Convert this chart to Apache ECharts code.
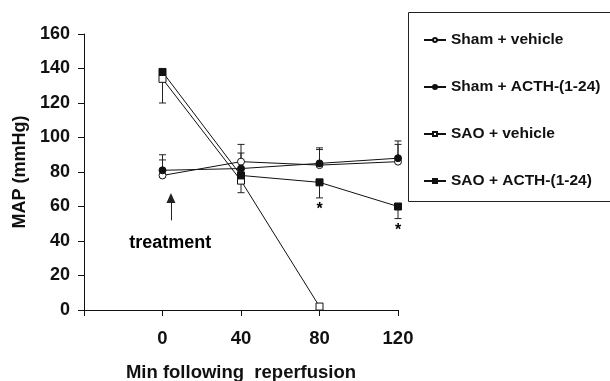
<!DOCTYPE html>
<html><head><meta charset="utf-8">
<script src="https://cdn.jsdelivr.net/npm/echarts@6/dist/echarts.min.js"></script>
<style>html,body{margin:0;padding:0;background:#fff}#c{width:610px;height:381px}</style>
</head><body><div id="c"></div>
<script>
const xTicks = [0, 40, 80, 120];
const shamVehicle = [[0, 78], [40, 86], [80, 84], [120, 86]];
const shamACTH = [[0, 81], [40, 82], [80, 85], [120, 88]];
const saoVehicle = [[0, 134], [40, 75], [80, 2]];
const saoACTH = [[0, 138], [40, 78], [80, 74], [120, 60]];
// error bars: [x, from (mean), to (bar end)]
const errorBars = [
  [0, 81, 90], [0, 78, 87], [40, 86, 96], [40, 82, 91], [80, 85, 94], [80, 84, 93],
  [120, 88, 98], [120, 86, 96],
  [0, 134, 120], [40, 78, 68], [80, 74, 65], [120, 60, 53]
];
const asterisks = [[80, 58], [120, 46]];
const arrowFrom = [4.3, 52], arrowTo = [4.3, 65];
const treatmentLabel = [4, 39];

const FONT = 'Liberation Sans, Arial, sans-serif';
const chart = echarts.init(document.getElementById('c'), null, {renderer: 'canvas'});
function lineSeries(name, data, symbol, filled) {
  return {
    name, type: 'line', data, symbol, symbolSize: 7, showSymbol: true,
    lineStyle: {color: '#111', width: 1},
    itemStyle: {color: filled ? '#111' : '#fff', borderColor: '#111', borderWidth: 1},
    emphasis: {disabled: true}, animation: false, z: 3
  };
}
chart.setOption({
  animation: false,
  grid: {left: 84, right: 212, top: 34, bottom: 71, outerBoundsMode: 'none', containLabel: false},
  xAxis: {
    type: 'value', min: -40, max: 120, interval: 40,
    axisLine: {onZero: false, lineStyle: {color: '#111', width: 1}},
    axisTick: {show: true, length: 6, lineStyle: {color: '#111'}},
    axisLabel: {
      margin: 19, color: '#111', fontSize: 18.5, fontWeight: 'bold', fontFamily: FONT,
      formatter: v => xTicks.includes(v) ? String(v) : ''
    },
    splitLine: {show: false},
    name: 'Min following  reperfusion', nameLocation: 'middle', nameGap: 53,
    nameTextStyle: {color: '#111', fontSize: 18.5, fontWeight: 'bold', fontFamily: FONT}
  },
  yAxis: {
    type: 'value', min: 0, max: 160, interval: 20,
    axisLine: {show: true, onZero: false, lineStyle: {color: '#111', width: 1}},
    axisTick: {show: true, length: 6, lineStyle: {color: '#111'}},
    axisLabel: {margin: 14, color: '#111', fontSize: 18, fontWeight: 'bold', fontFamily: FONT},
    splitLine: {show: false},
    name: 'MAP (mmHg)', nameLocation: 'middle', nameGap: 53, nameRotate: 90,
    nameTextStyle: {color: '#111', fontSize: 18, fontWeight: 'bold', fontFamily: FONT}
  },
  legend: {
    orient: 'vertical', left: 418, top: 27, itemGap: 31, itemWidth: 22, itemHeight: 5,
    data: ['Sham + vehicle', 'Sham + ACTH-(1-24)', 'SAO + vehicle', 'SAO + ACTH-(1-24)'],
    textStyle: {color: '#111', fontSize: 15.5, fontWeight: 'bold', fontFamily: FONT},
    selectedMode: false
  },
  graphic: [{
    type: 'rect', shape: {x: 408.5, y: 12.5, width: 220, height: 189},
    style: {fill: 'none', stroke: '#222', lineWidth: 1}, z: 0
  }],
  series: [
    lineSeries('Sham + vehicle', shamVehicle, 'circle', false),
    lineSeries('Sham + ACTH-(1-24)', shamACTH, 'circle', true),
    lineSeries('SAO + vehicle', saoVehicle, 'rect', false),
    lineSeries('SAO + ACTH-(1-24)', saoACTH, 'rect', true),
    {
      type: 'custom', data: errorBars, z: 2, silent: true,
      renderItem: (params, api) => {
        const p0 = api.coord([api.value(0), api.value(1)]);
        const p1 = api.coord([api.value(0), api.value(2)]);
        const w = 3.5;
        return {type: 'group', children: [
          {type: 'line', shape: {x1: p0[0], y1: p0[1], x2: p1[0], y2: p1[1]}, style: {stroke: '#222', lineWidth: 1}},
          {type: 'line', shape: {x1: p1[0] - w, y1: p1[1], x2: p1[0] + w, y2: p1[1]}, style: {stroke: '#222', lineWidth: 1}}
        ]};
      }
    },
    {
      type: 'scatter', data: asterisks, symbolSize: 0, silent: true, z: 5,
      itemStyle: {color: '#111', opacity: 1},
      label: {show: true, formatter: '*', position: 'inside', color: '#000', fontSize: 16, fontWeight: 'bold', fontFamily: FONT}
    },
    {
      type: 'scatter', data: [treatmentLabel], symbolSize: 0, silent: true, z: 5,
      itemStyle: {color: '#111', opacity: 1},
      label: {show: true, formatter: 'treatment', position: 'inside', color: '#000', fontSize: 18, fontWeight: 'bold', fontFamily: FONT},
      markLine: {
        silent: true, symbol: ['none', 'triangle'], symbolSize: [9, 10],
        label: {show: false},
        lineStyle: {color: '#222', width: 1, type: 'solid', opacity: 1},
        data: [[{coord: arrowFrom}, {coord: arrowTo}]]
      }
    }
  ]
});
</script></body></html>
